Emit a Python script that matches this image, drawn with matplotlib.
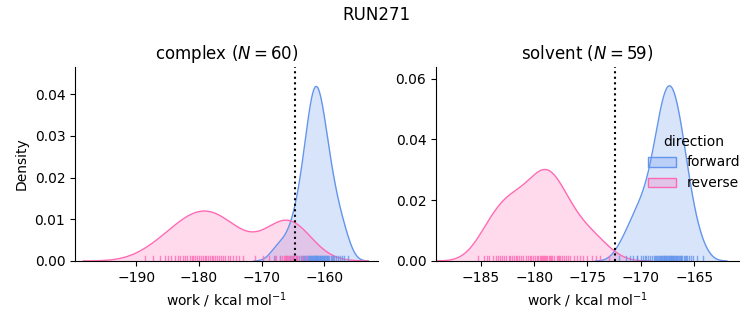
import numpy as np
import matplotlib
matplotlib.use("Agg")
from matplotlib import pyplot as plt
from matplotlib.patches import Patch
from matplotlib.colors import to_rgba

# work values (kcal/mol)
complex_forward = [-168.0, -167.0, -166.2, -165.5, -165.0, -164.6, -164.3, -164.0, -163.8, -163.6,
                   -163.4, -163.2, -163.05, -162.9, -162.75, -162.6, -162.5, -162.4, -162.3, -162.2,
                   -162.1, -162.0, -161.9, -161.8, -161.7, -161.65, -161.6, -161.5, -161.4, -161.35,
                   -161.3, -161.2, -161.1, -161.0, -160.95, -160.85, -160.75, -160.65, -160.55, -160.45,
                   -160.35, -160.25, -160.1, -160.0, -159.9, -159.8, -159.65, -159.5, -159.35, -159.2,
                   -159.0, -158.8, -158.65, -158.45, -158.15, -157.85, -157.5, -157.2, -156.8, -156.2]
complex_reverse = [-188.6, -187.4, -186.3, -185.5, -184.9, -184.4, -183.9, -183.4, -183.0, -182.6,
                   -182.2, -181.9, -181.5, -181.2, -180.9, -180.6, -180.3, -180.0, -179.7, -179.4,
                   -179.1, -178.9, -178.6, -178.3, -178.0, -177.7, -177.4, -177.1, -176.8, -176.5,
                   -176.1, -175.8, -175.4, -175.0, -174.6, -174.1, -173.6, -173.0, -171.0, -169.8,
                   -168.8, -167.9,
                   -167.7, -167.1, -166.8, -166.5, -166.3, -166.1, -165.9, -165.8, -165.6, -165.4,
                   -165.2, -165.0, -164.8, -164.6, -164.3, -164.0, -163.6, -162.9]
solvent_forward = [-172.0, -171.4, -171.0, -170.7, -170.4, -170.0, -169.6,
                   -170.4, -169.8, -169.5, -169.3, -169.1, -169.0, -168.8, -168.7, -168.6, -168.5,
                   -168.4, -168.3, -168.25, -168.15, -168.1, -168.0, -167.95, -167.85, -167.8, -167.75,
                   -167.65, -167.6, -167.55, -167.45, -167.4, -167.35, -167.27, -167.21, -167.14, -167.07,
                   -167.01, -166.94, -166.87, -166.81, -166.74, -166.66, -166.6, -166.52, -166.45, -166.36,
                   -166.28, -166.2, -166.1, -166.0, -165.89, -165.77, -165.64, -165.49, -165.3, -165.09,
                   -164.77, -164.19]
solvent_reverse = [-185.3, -184.7, -184.4, -184.2, -183.9, -183.6, -183.4, -183.2, -183.0, -182.8,
                   -182.6, -182.4, -182.3, -182.1, -181.9, -181.7, -181.6, -181.4, -181.2, -181.0,
                   -180.8, -180.6, -180.4, -180.3, -180.1, -179.9, -179.7, -179.6, -179.45, -179.35,
                   -179.25, -179.15, -179.05, -178.95, -178.85, -178.75, -178.65, -178.55, -178.4, -178.3,
                   -178.1, -177.9, -177.8, -177.7, -177.6, -177.4, -177.2, -177.0, -176.8, -176.6,
                   -176.3, -176.0, -175.7, -175.4, -175.0, -174.6, -174.2, -173.8, -173.0]

phases = ["complex", "solvent"]
n_cycles = [60, 59]
estimates = [-164.7, -172.4]
directions = ["forward", "reverse"]
colors = ["#6495ED", "#FF69B4"]
data = {"complex": [complex_forward, complex_reverse],
        "solvent": [solvent_forward, solvent_reverse]}


def kde(values, share=0.25):
    v = np.asarray(values)
    bw = v.std(ddof=1) * len(v) ** (-1 / 5)
    grid = np.linspace(v.min() - 3 * bw, v.max() + 3 * bw, 200)
    dens = np.exp(-0.5 * ((grid[:, None] - v[None, :]) / bw) ** 2).sum(1)
    dens /= len(v) * bw * np.sqrt(2 * np.pi)
    return grid, dens * share


fig = plt.figure(figsize=(7.53, 3.25), dpi=100)
axes = [fig.add_axes([0.0996, 0.197, 0.4027, 0.597]),
        fig.add_axes([0.579, 0.197, 0.4024, 0.597])]
xlims = [(-199.8, -151.4), (-189.2, -160.8)]
ylims = [(0, 0.0465), (0, 0.0638)]

for ax, phase, n, est, xl, yl in zip(axes, phases, n_cycles, estimates, xlims, ylims):
    for vals, c in zip(data[phase], colors):
        x, y = kde(vals)
        ax.fill_between(x, y, color=c, alpha=0.25, lw=0)
        ax.plot(x, y, color=c, lw=1)
    for vals, c in zip(data[phase], colors):
        for v in vals:
            ax.axvline(v, 0, 0.025, color=c, lw=1, alpha=0.8)
    ax.axvline(est, color="k", ls=":", lw=1.5)
    ax.set_xlim(xl)
    ax.set_ylim(yl)
    ax.set_title(f"{phase} ($N={n}$)")
    ax.set_xlabel("work / kcal mol$^{-1}$")
    ax.spines["top"].set_visible(False)
    ax.spines["right"].set_visible(False)

axes[0].set_ylabel("Density")

handles = [Patch(facecolor=to_rgba(c, 0.25), edgecolor=c, lw=1) for c in colors]
leg = fig.legend(handles, directions, title="direction", loc="center right",
                 bbox_to_anchor=(1, 0.5), frameon=False)
leg.get_title().set_fontsize(10)

fig.suptitle("RUN271")
fig.savefig("out.png")
